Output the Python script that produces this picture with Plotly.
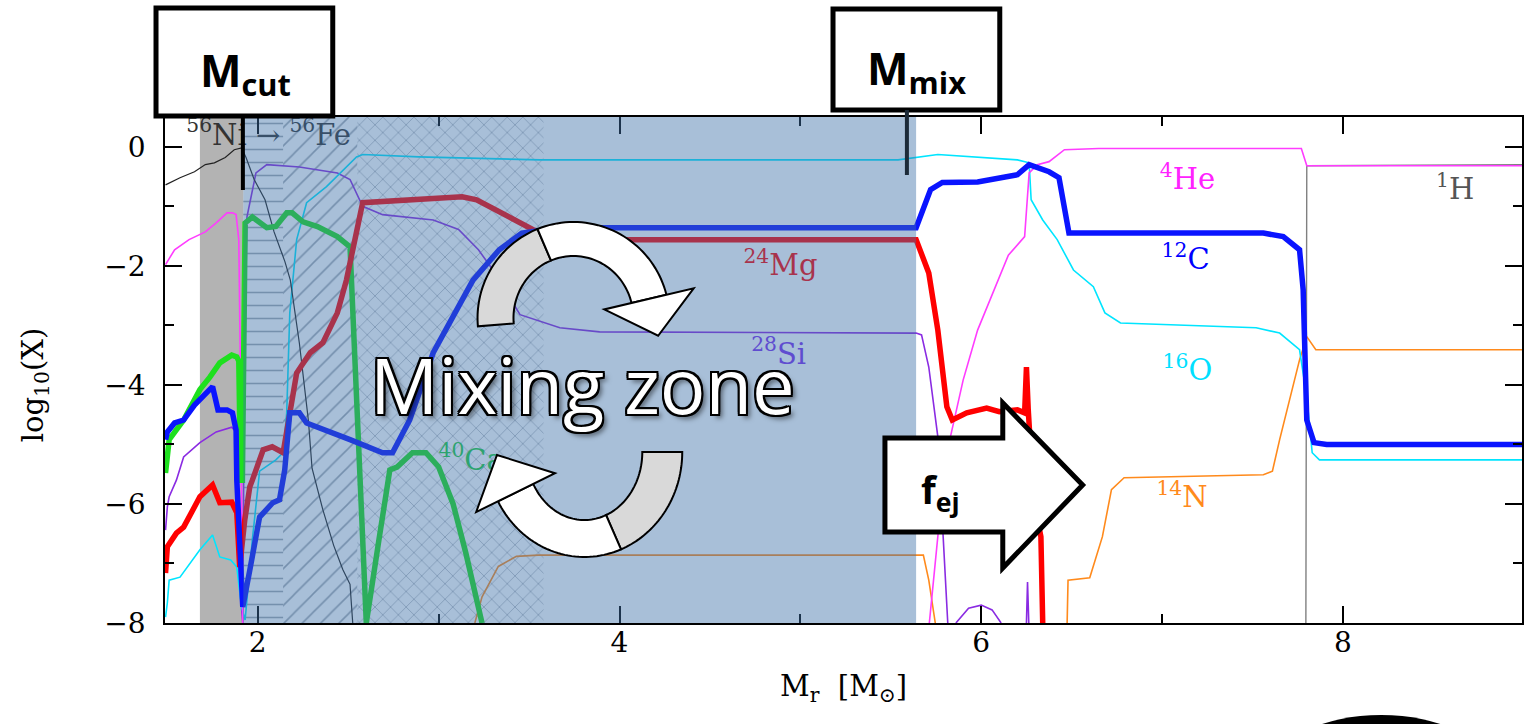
import math
import plotly.graph_objects as go

# ---------------- abundance profiles: log10(X) versus M_r ----------------
ni56_x = [1.49, 1.57, 1.65, 1.71, 1.76, 1.82, 1.87, 1.91, 1.935, 1.98, 2.04, 2.09, 2.15, 2.18,
          2.23, 2.28, 2.30, 2.36, 2.42, 2.47, 2.51, 2.525]
ni56_y = [-0.64, -0.52, -0.42, -0.30, -0.27, -0.18, -0.05, -0.02, -0.18, -0.55, -0.89, -1.43, -1.93,
          -2.24, -3.3, -4.6, -5.4, -6.1, -6.7, -7.1, -7.35, -8.0]

he4_x = [1.49, 1.54, 1.62, 1.71, 1.77, 1.83, 1.86, 1.88, 1.895, 1.90, 1.906, 1.91, 1.917, None,
         5.713, 5.735, 5.78, 5.83, 5.90, 5.98, 6.07, 6.15, 6.24, 6.265, 6.31, 6.375, 6.46, 6.65,
         7.77, 7.80, 8.99]
he4_y = [-1.98, -1.73, -1.56, -1.43, -1.28, -1.11, -1.11, -1.14, -1.56, -2.57, -4.25, -5.93, -8.0, None,
         -8.0, -7.28, -5.93, -4.87, -3.92, -3.08, -2.40, -1.82, -1.51, -0.44, -0.30, -0.25, -0.05, -0.03,
         -0.03, -0.32, -0.32]

h1_x = [7.795, 7.80, 8.99]
h1_y = [-8.0, -0.32, -0.30]

c12_x = [1.49, 1.50, 1.54, 1.59, 1.65, 1.71, 1.75, 1.78, 1.83, 1.86, 1.88, 1.884, 1.90, 1.917,
         1.956, 2.01, 2.083, 2.12, 2.149, 2.177, 2.23, 2.27, 2.51, 2.69, 2.745, 2.84, 2.97, 3.19,
         3.335, 3.46, 3.67, 5.64, 5.72, 5.785, 5.98, 6.20, 6.265, 6.375, 6.43, 6.475, 6.485, 7.56,
         7.67, 7.76, 7.78, 7.80, 7.84, 7.91, 8.99]
c12_y = [-4.92, -4.79, -4.64, -4.59, -4.34, -4.17, -4.03, -4.42, -4.42, -4.47, -4.76, -5.6, -6.77, -7.73,
         -7.11, -6.22, -5.98, -5.93, -5.43, -4.47, -4.47, -4.64, -4.92, -5.14, -5.14, -4.59, -3.46, -2.24,
         -1.73, -1.45, -1.36, -1.36, -0.72, -0.60, -0.59, -0.47, -0.30, -0.42, -0.52, -1.28, -1.45, -1.45,
         -1.51, -1.73, -2.40, -4.59, -4.97, -5.0, -5.0]

o16_x = [1.49, 1.50, 1.51, 1.57, 1.68, 1.75, 1.79, 1.85, 1.884, 1.91, 1.93, 1.97, 2.01, 2.10, 2.14,
         2.16, 2.177, 2.19, 2.215, 2.27, 2.38, 2.546, 2.58, 2.89, 3.56, 5.54, 5.65, 5.76, 6.20, 6.265,
         6.276, 6.34, 6.42, 6.51, 6.62, 6.684, 6.77, 7.52, 7.65, 7.76, 7.80, 7.83, 7.87, 8.99]
o16_y = [-7.9, -7.66, -7.28, -7.23, -6.77, -6.52, -6.89, -6.94, -7.06, -7.73, -7.95, -6.6, -5.45, -5.26,
         -5.14, -4.47, -2.79, -2.40, -1.56, -0.94, -0.67, -0.17, -0.13, -0.17, -0.22, -0.22, -0.17, -0.13,
         -0.22, -0.27, -0.89, -1.23, -1.56, -2.07, -2.35, -2.79, -2.96, -3.04, -3.13, -3.41, -4.20, -5.14,
         -5.26, -5.26]

mg24_x = [1.49, 1.50, 1.55, 1.59, 1.68, 1.75, 1.79, 1.856, 1.884, 1.90, 1.928, 1.956, 1.97, 2.03,
          2.08, 2.14, 2.215, 2.29, 2.36, 2.44, 2.49, 2.58, 3.13, 3.21, 3.52, 3.67, 5.64, 5.71, 5.76,
          5.81, 5.84, 5.92, 6.03, 6.10, 6.20, 6.24, 6.25, 6.26, 6.29, 6.33, 6.34]
mg24_y = [-7.16, -6.72, -6.49, -6.39, -5.88, -5.68, -5.98, -5.97, -6.15, -7.06, -6.27, -5.71, -5.6, -5.09,
          -5.04, -5.14, -3.80, -3.46, -3.29, -2.79, -2.24, -0.94, -0.84, -0.89, -1.39, -1.56, -1.56, -2.12,
          -3.08, -4.37, -4.59, -4.47, -4.39, -4.45, -4.42, -4.47, -3.7, -4.42, -5.93, -6.55, -8.0]

si28_x = [1.49, 1.50, 1.51, 1.55, 1.59, 1.68, 1.77, 1.856, 1.884, 1.90, 1.917, 1.925, 1.94, 1.99,
          2.05, 2.23, 2.44, 2.51, 2.58, 2.69, 2.97, 3.11, 3.22, 3.30, 3.45, 3.67, 3.89, 5.64, 5.67,
          5.71, 5.76, 5.79, 5.815, None, 5.86, 5.93, 6.0, 6.06, 6.11, None, 6.25, 6.256, 6.263]
si28_y = [-6.44, -6.05, -5.88, -5.60, -5.21, -4.97, -4.79, -4.71, -4.81, -7.39, -8.0, -4.0, -1.18, -0.44,
          -0.30, -0.34, -0.44, -0.55, -1.0, -1.14, -1.23, -1.39, -1.73, -2.07, -2.82, -3.04, -3.11, -3.13,
          -3.16, -3.70, -4.87, -6.49, -8.0, None, -8.0, -7.75, -7.7, -7.78, -8.0, None, -8.0, -7.31, -8.0]

ca40_x = [1.49, 1.51, 1.59, 1.68, 1.735, 1.79, 1.856, 1.884, 1.895, 1.905, 1.915, 1.925, 1.93, 1.97,
          2.05, 2.10, 2.16, 2.19, 2.25, 2.33, 2.44, 2.51, 2.52, 2.56, 2.60, 2.67, 2.73, 2.77, 2.855,
          2.93, 3.0, 3.08, 3.15, 3.24]
ca40_y = [-5.48, -4.92, -4.59, -4.08, -3.87, -3.63, -3.50, -3.53, -3.6, -5.6, -5.6, -2.4, -1.28, -1.18,
          -1.36, -1.34, -1.11, -1.11, -1.26, -1.34, -1.51, -1.68, -2.4, -5.6, -8.0, -6.6, -5.43, -5.38,
          -5.14, -5.14, -5.38, -6.0, -6.82, -8.0]

n14_x = [3.20, 3.24, 3.33, 3.43, 3.55, 5.64, 5.68, 5.71, 5.746, None, 6.475, 6.48, 6.60, 6.67,
         6.72, 6.79, 7.56, 7.61, 7.65, 7.72, 7.76, 7.80, 7.85, 8.99]
n14_y = [-8.0, -7.56, -7.05, -6.88, -6.86, -6.86, -6.86, -7.28, -8.0, None, -8.0, -7.28, -7.24, -6.55,
         -5.76, -5.56, -5.51, -5.45, -4.92, -4.08, -3.58, -3.19, -3.41, -3.41]

# species labels: (text, x, y, colour)
label_text = ["<sup>56</sup>Ni → <sup>56</sup>Fe", "<sup>24</sup>Mg", "<sup>28</sup>Si", "<sup>40</sup>Ca",
              "<sup>4</sup>He", "<sup>1</sup>H", "<sup>12</sup>C", "<sup>16</sup>O", "<sup>14</sup>N"]
label_x = [2.06, 4.89, 4.88, 3.18, 7.14, 8.62, 7.13, 7.14, 7.11]
label_y = [0.16, -2.03, -3.52, -5.3, -0.59, -0.76, -1.93, -3.8, -5.93]
label_color = ["#333333", "#ff0000", "#7b2ff0", "#20cc40", "#ff22ff", "#555555", "#0000ff",
               "#00e0ff", "#ff8a1c"]

# mass coordinates of the cut, the mixing boundary and the shaded zones
m_left, m_right = 1.487, 8.99
m_gray0, m_cut, m_mix = 1.68, 1.92, 5.64
hatch_bounds = [(1.92, 2.14, "-"), (2.14, 2.55, "/"), (2.55, 3.58, "x")]

Y_MIN, Y_MAX = -8.0, 0.5

# figure geometry (pixels) used for the paper-space annotations
W, H = 1524, 724
L, R, T, B = 165, 0, 117, 101
PW, PH = W - L - R, H - T - B


def P(px, py):
    return (px - L) / PW, (H - B - py) / PH


def path_from(points):
    pts = [P(px, py) for px, py in points]
    return "M " + " L ".join(f"{x:.5f},{y:.5f}" for x, y in pts) + " Z"


def arc(cx, cy, rx, ry, t0, t1, n=40):
    out = []
    for i in range(n + 1):
        t = math.radians(t0 + (t1 - t0) * i / n)
        out.append((cx + rx * math.cos(t), cy - ry * math.sin(t)))
    return out


def curved_arrow(cx, cy, ro, ri, t0, tsplit, t1, head_half, head_len):
    rxo, ryo = ro
    rxi, ryi = ri
    gray = arc(cx, cy, rxo, ryo, t0, tsplit) + arc(cx, cy, rxi, ryi, tsplit, t0)
    white = arc(cx, cy, rxo, ryo, tsplit, t1) + arc(cx, cy, rxi, ryi, t1, tsplit)
    te = math.radians(t1)
    ox, oy = cx + rxo * math.cos(te), cy - ryo * math.sin(te)
    ix, iy = cx + rxi * math.cos(te), cy - ryi * math.sin(te)
    mx, my = (ox + ix) / 2, (oy + iy) / 2
    rdx, rdy = ox - ix, oy - iy
    rn = math.hypot(rdx, rdy)
    rdx, rdy = rdx / rn, rdy / rn
    sgn = 1 if t1 < t0 else -1
    tdx, tdy = sgn * rxo * math.sin(te), sgn * ryo * math.cos(te)
    tn = math.hypot(tdx, tdy)
    tdx, tdy = tdx / tn, tdy / tn
    head = [(mx + head_half * rdx, my + head_half * rdy),
            (mx + head_len * tdx, my + head_len * tdy),
            (mx - head_half * rdx, my - head_half * rdy)]
    return gray, white, head


fig = go.Figure()

# hatched sub-zones inside the mixing region
for x0, x1, shp in hatch_bounds:
    fig.add_trace(go.Scatter(
        x=[x0, x1, x1, x0, x0], y=[Y_MIN, Y_MIN, Y_MAX, Y_MAX, Y_MIN],
        mode="lines", fill="toself", line=dict(width=0), fillcolor="rgba(0,0,0,0)",
        fillpattern=dict(shape=shp, size=13 if shp != "x" else 11, solidity=0.12,
                         fgcolor="rgba(35,50,70,0.85)", bgcolor="rgba(0,0,0,0)"),
        hoverinfo="skip", showlegend=False))

thin = 1.6
thick = 5.5
curves = [
    (h1_x, h1_y, "#808080", 1.4),
    (n14_x, n14_y, "#ff8a1c", thin),
    (si28_x, si28_y, "#8a2be2", thin),
    (o16_x, o16_y, "#00e5ff", thin),
    (he4_x, he4_y, "#ff3cff", thin),
    (ni56_x, ni56_y, "#222222", 1.2),
    (ca40_x, ca40_y, "#1ee01e", thick),
    (mg24_x, mg24_y, "#ff0000", thick),
    (c12_x, c12_y, "#0a14ff", thick),
]
for xs, ys, col, w in curves:
    fig.add_trace(go.Scatter(x=xs, y=ys, mode="lines", line=dict(color=col, width=w),
                             connectgaps=False, hoverinfo="skip", showlegend=False))

fig.add_trace(go.Scatter(x=label_x, y=label_y, mode="text", text=label_text,
                         textfont=dict(family="DejaVu Serif", size=29, color=label_color),
                         hoverinfo="skip", showlegend=False))

shapes = []
# grey band left of the mass cut (under the curves)
shapes.append(dict(type="rect", xref="x", yref="paper", x0=m_gray0, x1=m_cut, y0=0, y1=1,
                   fillcolor="#b3b3b3", line=dict(width=0), layer="below"))
# translucent blue mixing region (over the curves)
shapes.append(dict(type="rect", xref="x", yref="paper", x0=m_cut, x1=m_mix, y0=0, y1=1,
                   fillcolor="rgba(62,113,168,0.45)", line=dict(width=0), layer="above"))

# curved arrows around the label
for args in [
    dict(cx=574, cy=318, ro=(96, 96), ri=(60, 62), t0=185, tsplit=112, t1=14, head_half=46, head_len=38),
    dict(cx=585, cy=452, ro=(98, 105), ri=(58, 68), t0=0, tsplit=-68, t1=-152, head_half=44, head_len=42),
]:
    g, wpart, head = curved_arrow(**args)
    for pts, col in [(g, "#d9d9d9"), (wpart, "#ffffff"), (head, "#ffffff")]:
        shapes.append(dict(type="path", xref="paper", yref="paper", path=path_from(pts),
                           fillcolor=col, line=dict(color="black", width=2), layer="above"))

# block arrow for the ejected fraction
fej = [(886, 438), (1004, 438), (1004, 403), (1084, 485), (1004, 568), (1004, 532), (886, 532)]
shapes.append(dict(type="path", xref="paper", yref="paper", path=path_from(fej),
                   fillcolor="white", line=dict(color="black", width=5), layer="above"))

# marker boxes and their pointers
for (bx0, by0, bx1, by1), (lx, ly0, ly1, lcol) in [
    ((156, 8, 333, 116), (243, 116, 190, "black")),
    ((834, 9, 1001, 110), (908, 110, 175, "#1c2a38")),
]:
    xa, ya = P(bx0, by0)
    xb, yb = P(bx1, by1)
    shapes.append(dict(type="rect", xref="paper", yref="paper", x0=xa, x1=xb, y0=yb, y1=ya,
                       fillcolor="white", line=dict(color="black", width=5), layer="above"))
    xl, yl0 = P(lx, ly0)
    _, yl1 = P(lx, ly1)
    shapes.append(dict(type="line", xref="paper", yref="paper", x0=xl, x1=xl, y0=yl0, y1=yl1,
                       line=dict(color=lcol, width=4), layer="above"))

# dark blob at the lower right edge
ex0, ey0 = P(1275, 715)
ex1, ey1 = P(1491, 825)
shapes.append(dict(type="circle", xref="paper", yref="paper", x0=ex0, x1=ex1, y0=ey1, y1=ey0,
                   fillcolor="black", line=dict(width=0), layer="above"))

annotations = []


def note(text, px, py, size, family="Open Sans", color="black", **kw):
    x, y = P(px, py)
    annotations.append(dict(text=text, x=x, y=y, xref="paper", yref="paper", showarrow=False,
                            xanchor="center", yanchor="middle",
                            font=dict(family=family, size=size, color=color, **kw.pop("fontkw", {})),
                            **kw))


note("<b>M<sub>cut</sub></b>", 246, 72, 44)
note("<b>M<sub>mix</sub></b>", 918, 70, 44)
note("<b>f<sub>ej</sub></b>", 942, 492, 38)
note("Mixing zone", 583, 384, 76, color="white",
     fontkw=dict(shadow="-2px -2px 0 #000, 2px -2px 0 #000, -2px 2px 0 #000, 2px 2px 0 #000, "
                        "0 2px 0 #000, 0 -2px 0 #000, 2px 0 0 #000, -2px 0 0 #000, 4px 4px 5px rgba(0,0,0,0.5)"))
note("log<sub>10</sub>(X)", 35, 385, 29, family="DejaVu Serif", textangle=-90)
note("M<sub>r</sub>  [M<sub>⊙</sub>]", 845, 688, 29, family="DejaVu Serif")

axis_common = dict(showgrid=False, zeroline=False, showline=True, linecolor="black", linewidth=1.5,
                   ticks="inside", ticklen=17, tickwidth=1.5, tickcolor="black", mirror="ticks",
                   tickfont=dict(family="DejaVu Serif", size=28, color="black"))

fig.update_layout(
    width=W, height=H, margin=dict(l=L, r=R, t=T, b=B),
    paper_bgcolor="white", plot_bgcolor="white",
    xaxis=dict(range=[m_left, m_right], tickvals=[2, 4, 6, 8], ticklabelstandoff=-6,
               minor=dict(tickvals=[3, 5, 7], ticks="inside", ticklen=9, tickwidth=1.5, tickcolor="black"),
               **axis_common),
    yaxis=dict(range=[Y_MIN, Y_MAX], tickvals=[-8, -6, -4, -2, 0], ticklabelstandoff=12,
               minor=dict(tickvals=[-7, -5, -3, -1], ticks="inside", ticklen=9, tickwidth=1.5,
                          tickcolor="black"),
               **axis_common),
    shapes=shapes, annotations=annotations, showlegend=False,
)

fig.write_html("out.html")
